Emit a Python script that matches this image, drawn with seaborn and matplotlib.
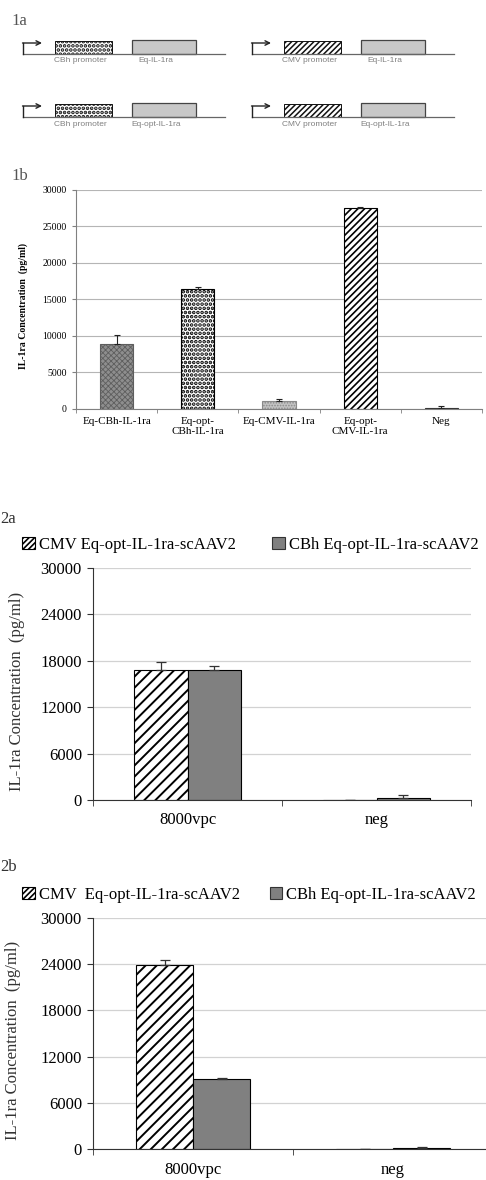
import numpy as np
import pandas as pd
import matplotlib
matplotlib.use('Agg')
import matplotlib.pyplot as plt
import matplotlib.patches as mpatches
import seaborn as sns

plt.rcParams['font.family'] = ['Liberation Serif', 'DejaVu Serif']
plt.rcParams['hatch.linewidth'] = 1.2

# ---- dados 1b ----
constructs_1b = ['Eq-CBh-IL-1ra', 'Eq-opt-\nCBh-IL-1ra', 'Eq-CMV-IL-1ra', 'Eq-opt-\nCMV-IL-1ra', 'Neg']
conc_1b = [8900, 16400, 1100, 27600, 200]
err_1b = [1200, 300, 300, 100, 150]

# ---- dados 2a / 2b ----
doses = ['8000vpc', 'neg']
vectors = ['CMV Eq-opt-IL-1ra-scAAV2', 'CBh Eq-opt-IL-1ra-scAAV2']
cmv_2a = [16800, 0]
cbh_2a = [16800, 250]
cmv_err_2a = [1000, 0]
cbh_err_2a = [500, 400]
cmv_2b = [23900, 0]
cbh_2b = [9100, 150]
cmv_err_2b = [700, 0]
cbh_err_2b = [100, 100]

# ---- esquema 1a ----
promoters = ['CBh promoter', 'CMV promoter']
genes = ['Eq-IL-1ra', 'Eq-opt-IL-1ra']

W, H = 486, 1180
fig = plt.figure(figsize=(W / 100, H / 100), dpi=100)


def box(left, top, right, bottom):
    return [left / W, 1 - bottom / H, (right - left) / W, (bottom - top) / H]


def hatch_lw(p, lw):
    # espessura da hachura por barra (quando a versao do matplotlib permite)
    if hasattr(p, 'set_hatch_linewidth'):
        p.set_hatch_linewidth(lw)


# Painel 1a: esquema das construcoes
ax0 = fig.add_axes(box(0, 0, W, 140))
ax0.set_xlim(0, W)
ax0.set_ylim(140, 0)
ax0.axis('off')
for r, y in enumerate([54, 117]):
    for c, x0 in enumerate([23, 252]):
        ax0.plot([x0, x0 + 202], [y, y], color='#666666', lw=0.9)
        ax0.plot([x0, x0], [y, y - 11], color='#222222', lw=1.0)
        ax0.annotate('', xy=(x0 + 19, y - 11), xytext=(x0 - 0.5, y - 11),
                     arrowprops=dict(arrowstyle='->', lw=1.0, color='#222222',
                                     shrinkA=0, shrinkB=0, mutation_scale=8))
        rect = mpatches.Rectangle((x0 + 32, y - 13), 57, 13, facecolor='white',
                                  edgecolor='#111111', lw=0.7,
                                  hatch='....' if c == 0 else '//////')
        hatch_lw(rect, 1.8 if c == 0 else 1.1)
        ax0.add_patch(rect)
        ax0.add_patch(mpatches.Rectangle((x0 + 109, y - 14), 64, 14, facecolor='#c8c8c8',
                                         edgecolor='#444444', lw=0.9))
        ax0.text(x0 + 57, y + 7, promoters[c], ha='center', va='center', fontsize=6,
                 color='#808080', family='Liberation Sans')
        ax0.text(x0 + 133, y + 7, genes[r], ha='center', va='center', fontsize=6,
                 color='#808080', family='Liberation Sans')

fig.text(11 / W, 1 - 21 / H, '1a', fontsize=12, color='#555555', va='center')
fig.text(11 / W, 1 - 176 / H, '1b', fontsize=12, color='#555555', va='center')
fig.text(0 / W, 1 - 519 / H, '2a', fontsize=12, color='#333333', va='center')
fig.text(0 / W, 1 - 867 / H, '2b', fontsize=12, color='#333333', va='center')

# Painel 1b
ax1 = fig.add_axes(box(76, 190, 482, 409))
df1 = pd.DataFrame({'construct': constructs_1b, 'conc': conc_1b})
sns.barplot(data=df1, x='construct', y='conc', ax=ax1, width=0.41, color='white',
            saturation=1, edgecolor='black', linewidth=0.8, errorbar=None)
estilos = [('#8e8e8e', 'xxxxxx', '#5e5e5e', 0.6), ('white', '....', 'black', 1.8),
           ('#c4c4c4', '......', '#8a8a8a', 0.8), ('white', '/////', 'black', 1.2),
           ('#555555', '', '#333333', 1.0)]
for p, (fc, h, ec, hl) in zip(ax1.patches, estilos):
    p.set_facecolor(fc)
    p.set_edgecolor(ec)
    p.set_hatch(h)
    hatch_lw(p, hl)
xs = [p.get_x() + p.get_width() / 2 for p in ax1.patches]
ax1.errorbar(xs, conc_1b, yerr=[np.zeros(len(err_1b)), err_1b], fmt='none',
             ecolor='#222222', elinewidth=0.8, capsize=2.5, capthick=0.8)
ax1.set_ylim(0, 30000)
ax1.set_xlim(-0.5, 4.5)
ax1.set_yticks(range(0, 30001, 5000))
ax1.yaxis.grid(True, color='#b5b5b5', lw=0.8)
ax1.set_axisbelow(True)
for s in ['top', 'right']:
    ax1.spines[s].set_visible(False)
for s in ['left', 'bottom']:
    ax1.spines[s].set_color('#808080')
ax1.set_xticks(np.arange(-0.5, 5, 1), minor=True)
ax1.tick_params(axis='x', which='major', length=0, pad=6, labelsize=8)
ax1.tick_params(axis='x', which='minor', length=3, direction='out', color='#808080')
ax1.tick_params(axis='y', length=3, color='#808080', labelsize=7)
for t in ax1.get_xticklabels():
    t.set_linespacing(1.15)
ax1.set_xlabel('')
ax1.set_ylabel('IL-1ra Concentration  (pg/ml)', fontsize=7, fontweight='bold')
ax1.yaxis.set_label_coords(-0.118, 0.47)


# Paineis 2a e 2b
def painel(pos, cmv, cbh, cmv_err, cbh_err, leg_y, col_sp, legend_labels):
    ax = fig.add_axes(pos)
    df = pd.DataFrame({'dose': doses * 2,
                       'vector': [vectors[0]] * 2 + [vectors[1]] * 2,
                       'conc': cmv + cbh})
    sns.barplot(data=df, x='dose', y='conc', hue='vector', ax=ax, width=0.57,
                palette=['white', '#808080'], saturation=1, edgecolor='black',
                linewidth=0.8, errorbar=None, legend=False)
    for p in ax.containers[0]:
        p.set_hatch('///')
        hatch_lw(p, 1.4)
    for cont, vals, errs in zip(ax.containers, [cmv, cbh], [cmv_err, cbh_err]):
        bx = [p.get_x() + p.get_width() / 2 for p in cont]
        ax.errorbar(bx, vals, yerr=[np.zeros(len(errs)), errs], fmt='none',
                    ecolor='#333333', elinewidth=0.9, capsize=3.5, capthick=0.9)
    ax.set_ylim(0, 30000)
    ax.set_xlim(-0.5, 1.5)
    ax.set_yticks(range(0, 30001, 6000))
    ax.yaxis.grid(True, color='#d2d2d2', lw=0.9)
    ax.set_axisbelow(True)
    for s in ['top', 'right']:
        ax.spines[s].set_visible(False)
    for s in ['left', 'bottom']:
        ax.spines[s].set_color('#333333')
    ax.set_xticks([-0.5, 0.5, 1.5], minor=True)
    ax.tick_params(axis='x', which='major', length=0, pad=9, labelsize=12)
    ax.tick_params(axis='x', which='minor', length=4, direction='out', color='#333333')
    ax.tick_params(axis='y', length=4, color='#333333', labelsize=12, pad=4)
    ax.set_xlabel('')
    ax.set_ylabel('IL-1ra Concentration  (pg/ml)', fontsize=12, color='#333333')
    ax.yaxis.set_label_coords(-0.18, 0.47)
    handles = [mpatches.Patch(facecolor='white', edgecolor='black', hatch='//////', lw=0.8),
               mpatches.Patch(facecolor='#808080', edgecolor='#333333', lw=0.8)]
    ax.legend(handles, legend_labels, ncol=2, loc='center left',
              bbox_to_anchor=(22 / W, 1 - leg_y / H), bbox_transform=fig.transFigure,
              frameon=False, fontsize=12, handlelength=0.75, handleheight=0.75,
              handletextpad=0.25, columnspacing=col_sp, borderpad=0, borderaxespad=0)
    return ax


painel(box(93, 568, 471, 800), cmv_2a, cbh_2a, cmv_err_2a, cbh_err_2a, 545, 2.2, vectors)
painel(box(93, 918, 493, 1149), cmv_2b, cbh_2b, cmv_err_2b, cbh_err_2b, 895, 1.8,
       ['CMV  Eq-opt-IL-1ra-scAAV2', vectors[1]])

fig.savefig('out.png', dpi=100)
